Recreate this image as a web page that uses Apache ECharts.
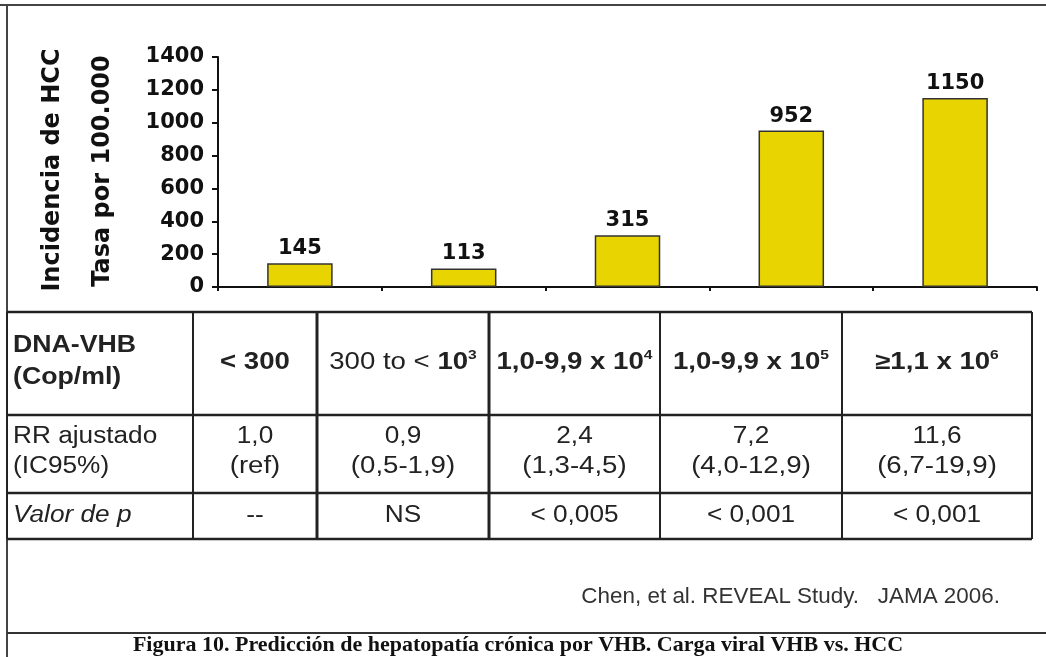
<!DOCTYPE html>
<html>
<head>
<meta charset="utf-8">
<script src="https://cdn.jsdelivr.net/npm/echarts@6/dist/echarts.min.js"></script>
<style>
  html, body { margin: 0; padding: 0; background: #fff; }
  #chart { width: 1046px; height: 657px; }
</style>
</head>
<body>
<div id="chart"></div>
<script>
// datos
var cargaViral = ['< 300', '300 to < 10³', '1,0-9,9 x 10⁴', '1,0-9,9 x 10⁵', '≥1,1 x 10⁶'];
var incidencia = [145, 113, 315, 952, 1150];
var yTicks = [0, 200, 400, 600, 800, 1000, 1200, 1400];

// tabla
var cabBase = ['< 300', '10', '1,0-9,9 x 10', '1,0-9,9 x 10', '≥1,1 x 10'];
var cabPrefijo = ['', '300 to < ', '', '', ''];
var cabExp = ['', '3', '4', '5', '6'];
var rrValor = ['1,0', '0,9', '2,4', '7,2', '11,6'];
var rrIC = ['(ref)', '(0,5-1,9)', '(1,3-4,5)', '(4,0-12,9)', '(6,7-19,9)'];
var valorP = ['--', 'NS', '< 0,005', '< 0,001', '< 0,001'];

var chart = echarts.init(document.getElementById('chart'));

var colX = [7, 193, 317, 489, 660, 842, 1032];
var rowY = [312, 415, 493, 539];
var sans = '"Liberation Sans", Arial, sans-serif';
var verdana = '"DejaVu Sans", Verdana, sans-serif';

var g = [];
function line(x1, y1, x2, y2, w, c) {
    g.push({ type: 'line', shape: { x1: x1, y1: y1, x2: x2, y2: y2 },
        style: { stroke: c || '#222', lineWidth: w || 2 }, silent: true });
}
function text(x, y, t, font, align, sx, extra) {
    var el = { type: 'text', x: x, y: y, scaleX: sx || 1, silent: true,
        style: { text: t, font: font, fill: '#222', textAlign: align || 'center', textVerticalAlign: 'middle' } };
    if (extra) {
        for (var k in extra) el.style[k] = extra[k];
    }
    g.push(el);
}

// marco
line(0, 5, 1046, 5, 2, '#444');
line(7, 5, 7, 657, 2, '#444');
line(7, 633, 1046, 633, 2, '#333');

// rejilla de la tabla
rowY.forEach(function (y) { line(colX[0], y, colX[6], y, 2.5); });
colX.forEach(function (x, i) { line(x, rowY[0], x, rowY[3], (i === 2 || i === 3) ? 3 : 2); });

// columna izquierda
var hx = 1.16, bx = 1.14;
text(13, 346, 'DNA-VHB', 'bold 23px ' + sans, 'left', hx);
text(13, 378, '(Cop/ml)', 'bold 23px ' + sans, 'left', hx);
text(13, 437, 'RR ajustado', '23px ' + sans, 'left', bx);
text(13, 467, '(IC95%)', '23px ' + sans, 'left', bx);
text(13, 516, 'Valor de p', 'italic 23px ' + sans, 'left', bx);

for (var i = 0; i < cabBase.length; i++) {
    var cx = (colX[i + 1] + colX[i + 2]) / 2;
    var rich = {
        n: { fontFamily: sans, fontSize: 23, fontWeight: 'normal', fill: '#222', lineHeight: 28 },
        b: { fontFamily: sans, fontSize: 23, fontWeight: 'bold', fill: '#222', lineHeight: 28 },
        s: { fontFamily: sans, fontSize: 13, fontWeight: 'bold', fill: '#222', lineHeight: 28, verticalAlign: 'top', padding: [0, 0, 12, 0] }
    };
    var t = (cabPrefijo[i] ? '{n|' + cabPrefijo[i] + '}' : '') + '{b|' + cabBase[i] + '}' + (cabExp[i] ? '{s|' + cabExp[i] + '}' : '');
    text(cx, 363, t, null, 'center', 1.2, { rich: rich });
    text(cx, 437, rrValor[i], '23px ' + sans, 'center', bx);
    text(cx, 467, rrIC[i], '23px ' + sans, 'center', 1.2);
    text(cx, 516, valorP[i], '23px ' + sans, 'center', bx);
}

// titulo del eje y
g.push({ type: 'text', x: 53, y: 170, rotation: Math.PI / 2, silent: true,
    style: { text: 'Incidencia de HCC', font: 'bold 24px ' + verdana, fill: '#111', textAlign: 'center', textVerticalAlign: 'middle' } });
g.push({ type: 'text', x: 103, y: 171, rotation: Math.PI / 2, silent: true,
    style: { text: 'Tasa por 100.000', font: 'bold 24px ' + verdana, fill: '#111', textAlign: 'center', textVerticalAlign: 'middle' } });

// cita y pie
text(1000, 597, 'Chen, et al. REVEAL Study.   JAMA 2006.', '22px ' + sans, 'right', 1.02, { fill: '#333' });
text(518, 645, 'Figura 10. Predicción de hepatopatía crónica por VHB. Carga viral VHB vs. HCC', 'bold 22px "Liberation Serif", serif', 'center', 1, { fill: '#111' });

var option = {
    animation: false,
    backgroundColor: '#fff',
    grid: { left: 218, right: 9, top: 57, bottom: 370, containLabel: false },
    xAxis: {
        type: 'category',
        data: cargaViral,
        axisLine: { lineStyle: { color: '#111', width: 2 } },
        axisTick: { show: true, length: 4, lineStyle: { color: '#111', width: 2 } },
        axisLabel: { show: false },
        splitLine: { show: false }
    },
    yAxis: {
        type: 'value',
        min: yTicks[0],
        max: yTicks[yTicks.length - 1],
        interval: 200,
        axisLine: { show: true, lineStyle: { color: '#111', width: 2 } },
        axisTick: { show: true, length: 6, lineStyle: { color: '#111', width: 2 } },
        axisLabel: {
            color: '#111', fontFamily: verdana, fontWeight: 'bold', fontSize: 21, margin: 14,
            formatter: function (v) { return String(v); }
        },
        splitLine: { show: false }
    },
    series: [{
        type: 'bar',
        data: incidencia,
        barWidth: '40%',
        itemStyle: { color: '#e8d400', borderColor: '#333', borderWidth: 1.5 },
        label: {
            show: true, position: 'top', distance: 4,
            color: '#111', fontFamily: verdana, fontWeight: 'bold', fontSize: 21
        }
    }],
    graphic: { elements: g }
};
chart.setOption(option);
</script>
</body>
</html>
